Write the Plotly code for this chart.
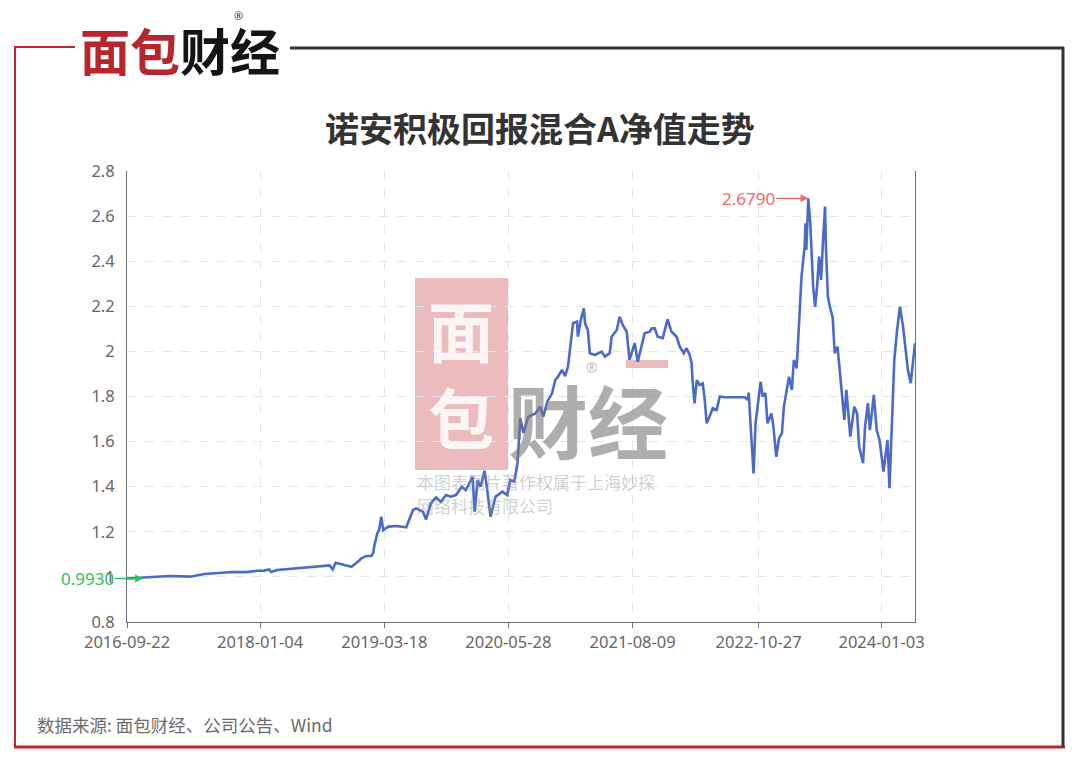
import plotly.graph_objects as go

# ---------------- data ----------------
dates = [
    "2016-09-22", "2016-12-17", "2017-02-18", "2017-05-03", "2017-06-21", "2017-09-29",
    "2017-11-17", "2017-12-24", "2018-01-18", "2018-02-05", "2018-02-12", "2018-03-05",
    "2018-04-19", "2018-06-18", "2018-07-23", "2018-09-06", "2018-09-17", "2018-09-27",
    "2018-10-25", "2018-11-22", "2018-12-10", "2018-12-27", "2019-01-14", "2019-01-31",
    "2019-02-07", "2019-02-11", "2019-02-21", "2019-02-28", "2019-03-07", "2019-03-14",
    "2019-04-01", "2019-04-29", "2019-06-03", "2019-06-27", "2019-07-08", "2019-08-01",
    "2019-08-12", "2019-08-29", "2019-09-16", "2019-10-03", "2019-10-21", "2019-11-07",
    "2019-11-25", "2019-12-16", "2019-12-30", "2020-01-23", "2020-01-30", "2020-02-10",
    "2020-02-20", "2020-03-05", "2020-03-16", "2020-03-26", "2020-04-13", "2020-05-07",
    "2020-05-24", "2020-06-04", "2020-06-18", "2020-06-29", "2020-07-09", "2020-07-20",
    "2020-08-06", "2020-08-31", "2020-09-17", "2020-09-28", "2020-10-12", "2020-10-29",
    "2020-11-09", "2020-11-19", "2020-12-03", "2020-12-14", "2020-12-24", "2021-01-07",
    "2021-01-11", "2021-01-25", "2021-01-28", "2021-02-08", "2021-02-18", "2021-02-22",
    "2021-03-04", "2021-03-11", "2021-03-29", "2021-04-22", "2021-05-03", "2021-05-20",
    "2021-05-27", "2021-06-14", "2021-06-24", "2021-07-05", "2021-07-19", "2021-07-29",
    "2021-08-16", "2021-08-27", "2021-09-13", "2021-09-20", "2021-10-08", "2021-10-15",
    "2021-10-26", "2021-11-05", "2021-11-23", "2021-12-10", "2021-12-24", "2022-01-11",
    "2022-01-22", "2022-02-05", "2022-02-15", "2022-02-26", "2022-03-05", "2022-03-08",
    "2022-03-15", "2022-03-23", "2022-04-02", "2022-04-13", "2022-04-20", "2022-04-27",
    "2022-05-07", "2022-05-18", "2022-06-01", "2022-06-12", "2022-06-29", "2022-09-08",
    "2022-09-18", "2022-09-22", "2022-09-29", "2022-10-06", "2022-10-09", "2022-10-16",
    "2022-10-23", "2022-11-03", "2022-11-10", "2022-11-20", "2022-11-27", "2022-12-11",
    "2022-12-18", "2022-12-28", "2023-01-07", "2023-01-17", "2023-01-24", "2023-02-04",
    "2023-02-11", "2023-02-21", "2023-02-28", "2023-03-10", "2023-03-27", "2023-04-07",
    "2023-04-10", "2023-04-13", "2023-04-20", "2023-04-27", "2023-05-07", "2023-05-14",
    "2023-05-21", "2023-05-28", "2023-06-04", "2023-06-11", "2023-06-18", "2023-06-21",
    "2023-06-28", "2023-07-05", "2023-07-15", "2023-07-22", "2023-08-01", "2023-08-12",
    "2023-08-25", "2023-09-01", "2023-09-15", "2023-09-29", "2023-10-09", "2023-10-16",
    "2023-10-30", "2023-11-06", "2023-11-16", "2023-11-23", "2023-12-07", "2023-12-17",
    "2023-12-27", "2024-01-10", "2024-01-24", "2024-01-31", "2024-02-10", "2024-02-17",
    "2024-02-27", "2024-03-08", "2024-03-19", "2024-03-26", "2024-04-05", "2024-04-15",
    "2024-04-30",
]
nav = [
    0.993, 0.998, 1.004, 1.001, 1.013, 1.022,
    1.021, 1.027, 1.028, 1.033, 1.022, 1.031,
    1.036, 1.041, 1.045, 1.051, 1.033, 1.063,
    1.054, 1.045, 1.063, 1.082, 1.093, 1.093,
    1.107, 1.141, 1.193, 1.211, 1.267, 1.208,
    1.223, 1.226, 1.220, 1.297, 1.304, 1.289,
    1.255, 1.326, 1.353, 1.333, 1.363, 1.356,
    1.363, 1.400, 1.385, 1.444, 1.289, 1.430,
    1.400, 1.471, 1.371, 1.267, 1.356, 1.378,
    1.363, 1.430, 1.422, 1.504, 1.703, 1.638,
    1.710, 1.725, 1.755, 1.711, 1.777, 1.814,
    1.873, 1.888, 1.918, 1.890, 1.932, 2.065,
    2.125, 2.132, 2.065, 2.143, 2.191, 2.125,
    2.095, 1.992, 1.984, 1.999, 1.977, 1.992,
    2.065, 2.095, 2.154, 2.117, 2.087, 1.962,
    2.037, 1.954, 2.036, 2.080, 2.087, 2.102,
    2.102, 2.065, 2.059, 2.142, 2.087, 2.065,
    2.021, 1.992, 2.014, 1.984, 1.947, 1.873,
    1.770, 1.873, 1.851, 1.858, 1.785, 1.681,
    1.711, 1.748, 1.740, 1.800, 1.797, 1.797,
    1.785, 1.817, 1.666, 1.548, 1.459, 1.680,
    1.755, 1.866, 1.800, 1.815, 1.681, 1.725,
    1.666, 1.533, 1.615, 1.637, 1.755, 1.829,
    1.888, 1.829, 1.962, 1.925, 2.331, 2.464,
    2.568, 2.450, 2.679, 2.568, 2.287, 2.198,
    2.287, 2.420, 2.317, 2.494, 2.642, 2.464,
    2.243, 2.198, 2.150, 1.992, 2.021, 1.873,
    1.696, 1.829, 1.622, 1.755, 1.725, 1.578,
    1.504, 1.666, 1.770, 1.651, 1.807, 1.651,
    1.607, 1.467, 1.607, 1.393, 1.725, 1.962,
    2.095, 2.198, 2.109, 2.021, 1.918, 1.859,
    2.036,
]
tick_dates = ["2016-09-22", "2018-01-04", "2019-03-18", "2020-05-28",
              "2021-08-09", "2022-10-27", "2024-01-03"]
start_label = "0.9930"
peak_label = "2.6790"
title_text = "诺安积极回报混合A净值走势"
source_text = "数据来源: 面包财经、公司公告、Wind"

# ---------------- layout geometry ----------------
# the page body has an 8px margin, so the figure is shifted by 8px;
# all reference pixel positions are converted with that offset.
OFF = 8
W, H = 1080 - OFF, 764 - OFF
L, R, T, B = 127 - OFF, 915 - OFF, 171 - OFF, 622 - OFF   # plot area in figure pixels


def px(x):
    return ((x - OFF) - L) / (R - L)


def py(y):
    return (B - (y - OFF)) / (B - T)


CJK = "Noto Sans CJK SC, Noto Sans, sans-serif"
fig = go.Figure()

fig.add_trace(go.Scatter(
    x=dates, y=nav, mode="lines",
    line=dict(color="#4a6bc9", width=2.6),
    hoverinfo="x+y", showlegend=False,
))

peak_i = nav.index(max(nav))

annotations = [
    # start label
    dict(x=dates[0], y=nav[0], xref="x", yref="y", text=start_label,
         showarrow=True, ax=-56, ay=0, xshift=16, arrowhead=2, arrowsize=1.2,
         arrowwidth=1.3, arrowcolor="#2fbf5a",
         font=dict(family="Noto Sans", size=17, color="#2fbf5a")),
    # peak label
    dict(x=dates[peak_i], y=nav[peak_i], xref="x", yref="y", text=peak_label,
         showarrow=True, ax=-60, ay=0, arrowhead=2, arrowsize=1.2,
         arrowwidth=1.3, arrowcolor="#f26b6b",
         font=dict(family="Noto Sans", size=17, color="#f26b6b")),
    # title
    dict(x=px(540), y=py(128), xref="paper", yref="paper", text=f"<b>{title_text}</b>",
         showarrow=False, xanchor="center", yanchor="middle",
         font=dict(family=CJK, size=34, color="#333333")),
    # source
    dict(x=px(35), y=py(724), xref="paper", yref="paper", text=source_text,
         showarrow=False, xanchor="left", yanchor="middle",
         font=dict(family=CJK, size=17.5, color="#6b6b6b")),
    # top logo
    dict(x=px(180), y=py(49), xref="paper", yref="paper",
         text="<b><span style='color:#b5272d'>面包</span><span style='color:#141414'>财经</span></b>",
         showarrow=False, xanchor="center", yanchor="middle",
         font=dict(family=CJK, size=50)),
    dict(x=px(238), y=py(16), xref="paper", yref="paper", text="®",
         showarrow=False, xanchor="center", yanchor="middle",
         font=dict(family="Noto Sans", size=11, color="#333333")),
    # watermark pieces
    dict(x=px(461), y=py(328), xref="paper", yref="paper", text="<b>面</b>",
         showarrow=False, xanchor="center", yanchor="middle",
         font=dict(family=CJK, size=66, color="rgba(255,255,255,0.85)")),
    dict(x=px(461), y=py(415), xref="paper", yref="paper", text="<b>包</b>",
         showarrow=False, xanchor="center", yanchor="middle",
         font=dict(family=CJK, size=66, color="rgba(255,255,255,0.85)")),
    dict(x=px(588), y=py(418), xref="paper", yref="paper", text="<b>财经</b>",
         showarrow=False, xanchor="center", yanchor="middle",
         font=dict(family=CJK, size=80, color="rgba(120,120,120,0.6)")),
    dict(x=px(592), y=py(367), xref="paper", yref="paper", text="®",
         showarrow=False, xanchor="center", yanchor="middle",
         font=dict(family="Noto Sans", size=14, color="rgba(120,120,120,0.5)")),
    dict(x=px(415), y=py(481), xref="paper", yref="paper", text="本图表图片著作权属于上海妙探",
         showarrow=False, xanchor="left", yanchor="middle",
         font=dict(family=CJK, size=17, color="rgba(150,150,150,0.45)")),
    dict(x=px(415), y=py(505), xref="paper", yref="paper", text="网络科技有限公司",
         showarrow=False, xanchor="left", yanchor="middle",
         font=dict(family=CJK, size=17, color="rgba(150,150,150,0.45)")),
]


def line(x0, y0, x1, y1, color, width):
    return dict(type="line", xref="paper", yref="paper",
                x0=px(x0), y0=py(y0), x1=px(x1), y1=py(y1),
                line=dict(color=color, width=width), layer="above")


shapes = [
    line(15, 47, 75, 47, "#c0262d", 2),
    line(15, 46, 15, 747, "#c0262d", 2),
    line(14, 747, 1065, 747, "#c0262d", 3),
    line(290, 48, 1064, 48, "#333333", 3),
    line(1063, 47, 1063, 747, "#333333", 3),
    # watermark block
    dict(type="rect", xref="paper", yref="paper",
         x0=px(415), x1=px(508), y0=py(470), y1=py(278),
         fillcolor="rgba(215,120,125,0.5)", line=dict(width=0), layer="below"),
    dict(type="rect", xref="paper", yref="paper",
         x0=px(626), x1=px(668), y0=py(368), y1=py(360),
         fillcolor="rgba(215,120,125,0.5)", line=dict(width=0), layer="below"),
]

fig.update_layout(
    width=W, height=H,
    margin=dict(l=L, r=W - R, t=T, b=H - B),
    paper_bgcolor="white", plot_bgcolor="white",
    annotations=annotations, shapes=shapes,
    xaxis=dict(
        type="date", range=[dates[0], dates[-1]],
        tickvals=tick_dates, ticktext=tick_dates,
        showgrid=True, gridcolor="#e0e6f1", griddash="dash", gridwidth=1,
        showline=True, linecolor="#6e7079", linewidth=1,
        ticks="outside", ticklen=5, tickcolor="#6e7079",
        tickfont=dict(family="Noto Sans", size=16.5, color="#666666"),
        zeroline=False,
    ),
    yaxis=dict(
        range=[0.8, 2.8], dtick=0.2, tick0=0.8,
        showgrid=True, gridcolor="#e0e6f1", griddash="dash", gridwidth=1,
        showline=True, linecolor="#6e7079", linewidth=1, mirror=True,
        ticks="", ticklabelstandoff=8,
        tickfont=dict(family="Noto Sans", size=16.5, color="#666666"),
        zeroline=False,
    ),
)

fig.write_html("out.html")
